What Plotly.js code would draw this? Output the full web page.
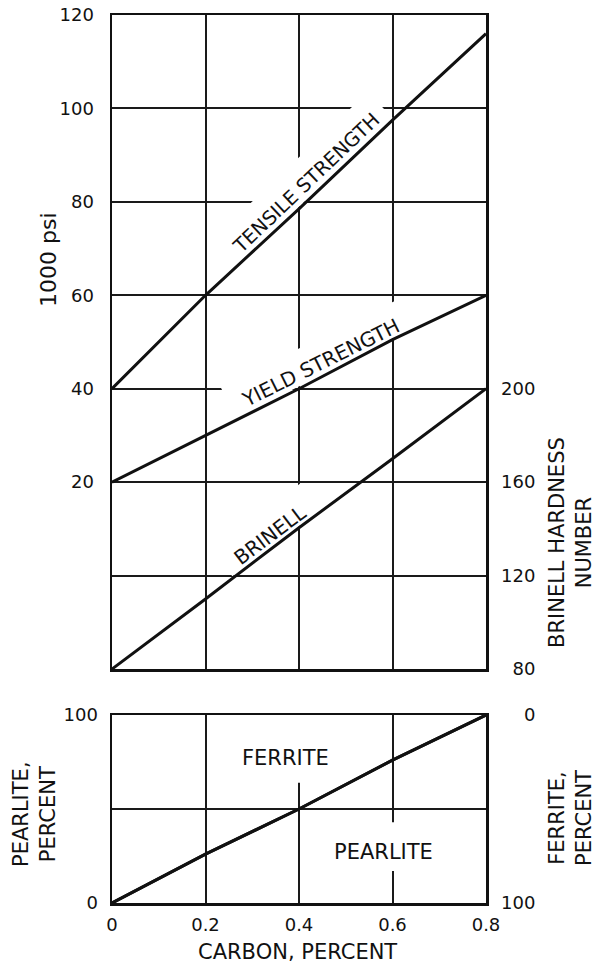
<!DOCTYPE html>
<html>
<head>
<meta charset="utf-8">
<script src="https://cdn.plot.ly/plotly-3.0.1.min.js"></script>
<style>html,body{margin:0;padding:0;background:#fff;}#chart{width:597px;height:964px;}</style>
</head>
<body>
<div id="chart"></div>
<script>
// ---- data ----
const carbon = [0, 0.2, 0.4, 0.6, 0.8];
const tensileStrength = [40, 60, 78.5, 97.5, 116]; // 1000 psi
const yieldStrength = [20, 30, 40, 50.5, 60];      // 1000 psi
const brinellHardness = [80, 110, 140.5, 170, 200];// Brinell number
const pearlitePct = [0, 26, 50, 76, 100];          // percent
const ferritePct = [100, 74, 50, 24, 0];           // percent (right scale, reversed)

const psiTicks = [0, 20, 40, 60, 80, 100, 120];
const psiTickText = ['', '20', '40', '60', '80', '100', '120'];
const brinellTicks = [80, 120, 160, 200];
const brinellTickText = ['\u200780', '120', '160', '200'];
const carbonTicks = [0, 0.2, 0.4, 0.6, 0.8];
const carbonTickText = ['0', '0.2', '0.4', '0.6', '0.8'];
const pctTicks = [0, 50, 100];
const pctTickText = ['0', '', '100'];
const ferriteTicks = [0, 100];
const ferriteTickText = ['\u2007\u20070', '100'];

const FONT = 'DejaVu Sans, sans-serif';
const INK = '#111';
const lineStyle = {color: INK, width: 3};

// ---- layout geometry ----
const W = 597, H = 964, ML = 112, MR = 111, MT = 15, MB = 61;
const plotW = W - ML - MR, plotH = H - MT - MB;
const topDomain = [0.2635, 1], botDomain = [0, 0.2117];
const xRange = [0, 0.8], psiRange = [-20, 120];
const pxPerX = plotW / (xRange[1] - xRange[0]);
const pxPerPsi = plotH * (topDomain[1] - topDomain[0]) / (psiRange[1] - psiRange[0]);

// white rotated box (drawn between grid and traces) to open gaps in the grid behind a label
function gapPath(xc, yc, angDeg, uMin, uMax, vMin, vMax) {
  const a = angDeg * Math.PI / 180, c = Math.cos(a), s = Math.sin(a);
  const pts = [[uMin, vMin], [uMax, vMin], [uMax, vMax], [uMin, vMax]].map(([u, v]) => {
    const dx = u * c - v * s, dy = u * s + v * c; // screen px (y down)
    return [xc + dx / pxPerX, yc - dy / pxPerPsi];
  });
  return 'M' + pts.map(p => p[0].toFixed(5) + ',' + p[1].toFixed(4)).join(' L') + ' Z';
}

// label positions (in 1000 psi units of the left axis)
const labels = [
  {text: 'TENSILE STRENGTH', x: 0.415, y: 83.9, ang: -43.5, size: 19.5, u: 108, v: [-24, 12]},
  {text: 'YIELD STRENGTH', x: 0.445, y: 45.6, ang: -26.4, size: 20, u: 100, v: [-22, 12]},
  {text: 'BRINELL', x: 0.338, y: 8.7, ang: -36.9, size: 20, u: 55, v: [-23, 10.5]}
];

const traces = [
  {x: carbon, y: tensileStrength, xaxis: 'x', yaxis: 'y', mode: 'lines', line: lineStyle, name: 'Tensile strength'},
  {x: carbon, y: yieldStrength, xaxis: 'x', yaxis: 'y', mode: 'lines', line: lineStyle, name: 'Yield strength'},
  {x: carbon, y: brinellHardness, xaxis: 'x', yaxis: 'y2', mode: 'lines', line: lineStyle, name: 'Brinell'},
  {x: carbon, y: pearlitePct, xaxis: 'x2', yaxis: 'y3', mode: 'lines', line: lineStyle, name: 'Pearlite'},
  {x: carbon, y: ferritePct, xaxis: 'x2', yaxis: 'y4', mode: 'lines', line: lineStyle, name: 'Ferrite'}
];

const frame = {showline: true, linecolor: INK, linewidth: 2.5, mirror: true, zeroline: false,
  gridcolor: '#1a1a1a', gridwidth: 2, ticks: '', tickfont: {family: FONT, size: 18, color: INK}};

const shapes = labels.map(L => ({type: 'path', xref: 'x', yref: 'y', layer: 'between',
  path: gapPath(L.x, L.y, L.ang, -L.u, L.u, L.v[0], L.v[1]), fillcolor: '#fff', line: {width: 0}}));
shapes.push({type: 'rect', xref: 'x2', yref: 'y3', layer: 'between', x0: 0.27, x1: 0.47, y0: 64, y1: 100,
  fillcolor: '#fff', line: {width: 0}});
shapes.push({type: 'rect', xref: 'x2', yref: 'y3', layer: 'between', x0: 0.46, x1: 0.70, y0: 17, y1: 43,
  fillcolor: '#fff', line: {width: 0}});

const annotations = labels.map(L => ({xref: 'x', yref: 'y', x: L.x, y: L.y, text: L.text, showarrow: false,
  textangle: L.ang, xanchor: 'center', yanchor: 'middle', font: {family: FONT, size: L.size, color: INK}}));

const T = (text, x, y, size, ang) => ({xref: 'paper', yref: 'paper', x: x, y: y, text: text, showarrow: false,
  textangle: ang || 0, xanchor: 'center', yanchor: 'middle', font: {family: FONT, size: size, color: INK}});

annotations.push(
  {xref: 'x2', yref: 'y3', x: 0.372, y: 77, text: 'FERRITE', showarrow: false, xanchor: 'center', yanchor: 'middle',
    font: {family: FONT, size: 21, color: INK}},
  {xref: 'x2', yref: 'y3', x: 0.58, y: 27, text: 'PEARLITE', showarrow: false, xanchor: 'center', yanchor: 'middle',
    font: {family: FONT, size: 21, color: INK}},
  T('1000 psi', (48 - ML) / plotW, (H - MB - 260) / plotH, 22, -90),
  T('BRINELL HARDNESS<br>NUMBER', (571 - ML) / plotW, (H - MB - 543) / plotH, 21, -90),
  T('PEARLITE,<br>PERCENT', (34 - ML) / plotW, (H - MB - 814) / plotH, 21, -90),
  T('FERRITE,<br>PERCENT', (570 - ML) / plotW, (H - MB - 818) / plotH, 21, -90),
  T('CARBON, PERCENT', (297 - ML) / plotW, (H - MB - 952) / plotH, 21, 0)
);

const layout = {
  width: W, height: H,
  margin: {l: ML, r: MR, t: MT, b: MB},
  paper_bgcolor: '#fff', plot_bgcolor: '#fff',
  showlegend: false,
  font: {family: FONT, color: INK},
  xaxis: Object.assign({}, frame, {domain: [0, 1], anchor: 'y', range: xRange, tickvals: carbonTicks,
    showticklabels: false, showgrid: true}),
  yaxis: Object.assign({}, frame, {domain: topDomain, anchor: 'x', range: psiRange, tickvals: psiTicks,
    ticktext: psiTickText, showgrid: true, ticklabelstandoff: 12}),
  yaxis2: Object.assign({}, frame, {overlaying: 'y', side: 'right', anchor: 'x', range: [80, 360],
    tickvals: brinellTicks, ticktext: brinellTickText, showgrid: false, ticklabelstandoff: 9}),
  xaxis2: Object.assign({}, frame, {domain: [0, 1], anchor: 'y3', range: xRange, tickvals: carbonTicks,
    ticktext: carbonTickText, showgrid: true, ticklabelstandoff: 4}),
  yaxis3: Object.assign({}, frame, {domain: botDomain, anchor: 'x2', range: [0, 100], tickvals: pctTicks,
    ticktext: pctTickText, showgrid: true, ticklabelstandoff: 8}),
  yaxis4: Object.assign({}, frame, {overlaying: 'y3', side: 'right', anchor: 'x2', range: [100, 0],
    tickvals: ferriteTicks, ticktext: ferriteTickText, showgrid: false, ticklabelstandoff: 9}),
  shapes: shapes,
  annotations: annotations
};

Plotly.newPlot('chart', traces, layout, {displayModeBar: false, staticPlot: true});
</script>
</body>
</html>
